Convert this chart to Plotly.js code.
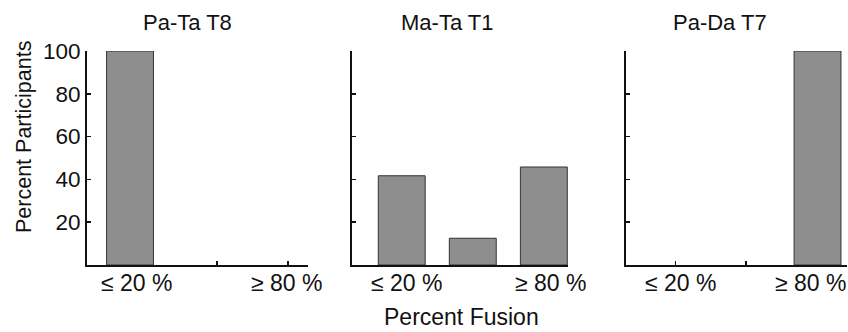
<!DOCTYPE html>
<html>
<head>
<meta charset="utf-8">
<script src="https://cdn.plot.ly/plotly-3.0.1.min.js"></script>
<style>html,body{margin:0;padding:0;background:#fff;}#chart{width:848px;height:332px;}</style>
</head>
<body>
<div id="chart"></div>
<script>
// Data
const categories = [0, 1, 2];               // ≤20 %, middle bin, ≥80 %
const panelTitles = ["Pa-Ta T8", "Ma-Ta T1", "Pa-Da T7"];
const paTaT8 = [100, 0, 0];
const maTaT1 = [41.7, 12.5, 45.8];
const paDaT7 = [0, 0, 100];
const xTickLabels = ["\u2264 20 %", "\u2265 80 %"];
const yTickVals = [20, 40, 60, 80, 100];
const yTickText = ["20", "40", "60", "80", "100"];

const series = [paTaT8, maTaT1, paDaT7];
const FONT = "Liberation Sans, Arial, sans-serif";
const W = 848, H = 332;
const px = v => v / W, py = v => 1 - v / H;

const xDomains = [[px(87), px(308)], [px(352), px(568)], [px(626), px(847)]];
const yDomain = [py(265), py(51)];
const xRanges = [[-0.606, 2.507], [-0.70, 2.34], [-0.697, 2.415]];
const xTickPos = [[1.225, 2.225], [], [0, 0.99]];
const xLabelPos = [[0.094, 2.207], [0.07, 2.09], [0.077, 1.894]];
const titleX = [187, 447.5, 720];

const data = series.map((vals, i) => ({
  type: "bar",
  x: categories,
  y: vals,
  width: 0.66,
  xaxis: i === 0 ? "x" : "x" + (i + 1),
  yaxis: i === 0 ? "y" : "y" + (i + 1),
  marker: {color: "#8e8e8e", line: {color: "#333333", width: vals.map(v => v > 0 ? 1 : 0)}},
  hoverinfo: "none",
  showlegend: false
}));

const layout = {
  width: W, height: H,
  margin: {l: 0, r: 0, t: 0, b: 0},
  paper_bgcolor: "#ffffff",
  plot_bgcolor: "#ffffff",
  font: {family: FONT, size: 21, color: "#111111"},
  bargap: 0,
  annotations: [],
  showlegend: false
};

for (let i = 0; i < 3; i++) {
  const s = i === 0 ? "" : String(i + 1);
  layout["xaxis" + s] = {
    domain: xDomains[i],
    range: xRanges[i],
    anchor: "y" + s,
    showline: true, linecolor: "#111111", linewidth: 2,
    showgrid: false, zeroline: false,
    tickmode: "array", tickvals: xTickPos[i], ticktext: xTickPos[i].map(() => ""),
    ticks: xTickPos[i].length ? "inside" : "", ticklen: 4, tickwidth: 1.5, tickcolor: "#111111",
    showticklabels: false, fixedrange: true
  };
  layout["yaxis" + s] = {
    domain: yDomain,
    range: [0, 100],
    anchor: "x" + s,
    showline: true, linecolor: "#111111", linewidth: 2,
    showgrid: false, zeroline: false,
    tickmode: "array", tickvals: yTickVals, ticktext: yTickText,
    ticks: "inside", ticklen: 4, tickwidth: 1.5, tickcolor: "#111111",
    showticklabels: i === 0,
    tickfont: {family: FONT, size: 22.5, color: "#111111"},
    fixedrange: true
  };
  layout.annotations.push({
    text: panelTitles[i], xref: "paper", yref: "paper",
    x: px(titleX[i]), y: py(23), xanchor: "center", yanchor: "middle",
    showarrow: false, font: {family: FONT, size: 22, color: "#111111"}
  });
  xTickLabels.forEach((t, j) => {
    layout.annotations.push({
      text: t, xref: "x" + s, yref: "paper",
      x: xLabelPos[i][j], y: py(283), xanchor: "center", yanchor: "middle",
      showarrow: false, font: {family: FONT, size: 23, color: "#111111"}
    });
  });
}

layout.annotations.push({
  text: "Percent Participants", xref: "paper", yref: "paper",
  x: px(24), y: py(137), xanchor: "center", yanchor: "middle", textangle: -90,
  showarrow: false, font: {family: FONT, size: 21.5, color: "#111111"}
});
layout.annotations.push({
  text: "Percent Fusion", xref: "paper", yref: "paper",
  x: px(461.7), y: py(317), xanchor: "center", yanchor: "middle",
  showarrow: false, font: {family: FONT, size: 23, color: "#111111"}
});

Plotly.newPlot("chart", data, layout, {displayModeBar: false, staticPlot: true});
</script>
</body>
</html>
